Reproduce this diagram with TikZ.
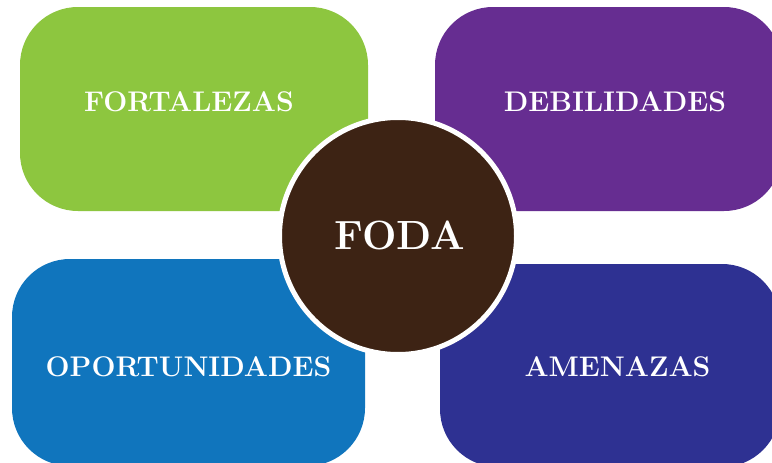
\documentclass[tikz,border=0pt]{standalone}
\usepackage{tikz}
\definecolor{fgreen}{HTML}{8DC63F}
\definecolor{fpurple}{HTML}{662D91}
\definecolor{fblue}{HTML}{1075BD}
\definecolor{fnavy}{HTML}{2E3192}
\definecolor{fbrown}{HTML}{3D2314}
\tikzset{
  quadbox/.style={draw=none, rounded corners=58pt},
  quadlabel/.style={text=white, font=\fontsize{28.4}{31}\selectfont\bfseries, inner sep=0pt},
  hub/.style={circle, fill=fbrown, draw=white, line width=5pt, minimum size=237pt, inner sep=0pt},
  hubtext/.style={text=white, font=\fontsize{40.8}{44}\selectfont\bfseries, inner sep=0pt}
}
\begin{document}
\begin{tikzpicture}[x=1pt,y=-1pt]
\useasboundingbox (0,0) rectangle (772,463);
\clip (0,0) rectangle (772,463);
\fill[white] (0,0) rectangle (772,463);
\fill[fgreen, quadbox] (20,7) rectangle (368,211);
\fill[fpurple, quadbox] (435,7) rectangle (782,211);
\fill[fblue, quadbox] (12,259) rectangle (365,466);
\fill[fnavy, quadbox] (440,264) rectangle (780,467);
\node[quadlabel] (fort) at (189,102) {FORTALEZAS};
\node[quadlabel] (debi) at (615,102) {DEBILIDADES};
\node[quadlabel] (opor) at (188.5,367) {OPORTUNIDADES};
\node[quadlabel] (amen) at (617.5,367) {AMENAZAS};
\node[hub] (foda) at (398,236) {};
\node[hubtext] (fodatext) at (400,235) {FODA};
\end{tikzpicture}
\end{document}
